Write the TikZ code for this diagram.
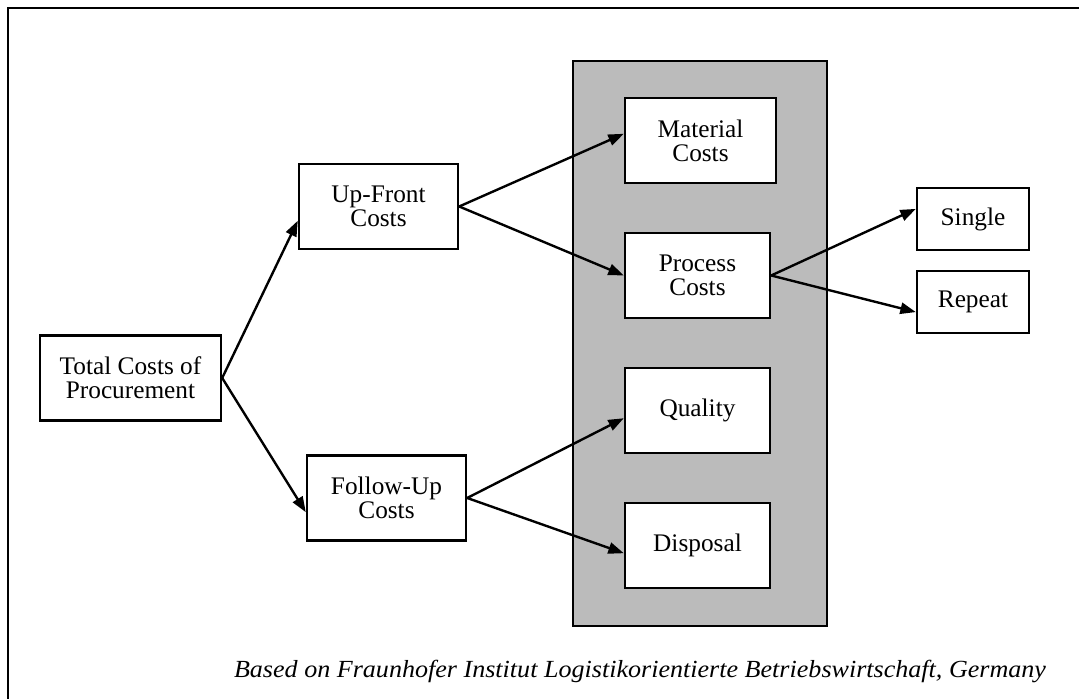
\documentclass[tikz,border=0pt]{standalone}
\usepackage{fontspec}
\setmainfont{Liberation Serif}
\newfontfamily\sourcefont[FakeStretch=1.06]{Liberation Serif}
\usetikzlibrary{arrows.meta}

\definecolor{panelgray}{RGB}{187,187,187}

\tikzset{
  costbox/.style={draw, line width=1.7pt, fill=white, align=center,
    minimum height=2.125cm, inner sep=2pt,
    font=\fontsize{18}{17}\selectfont},
  arr/.style={line width=1.7pt, -{Triangle[length=11pt,width=8pt]}},
}

\begin{document}
\begin{tikzpicture}
\useasboundingbox (0,0) rectangle (26.975,17.475);
% frame and grey panel
\draw[line width=1.7pt] (0.2,0) -- (0.2,17.275) -- (27.2,17.275);
\draw[line width=1.4pt, fill=panelgray] (14.325,1.825) rectangle (20.675,15.95);

\node[costbox, minimum width=4.525cm] (total) at (3.2625,8.025) {Total Costs of\\Procurement};
\node[costbox, minimum width=3.975cm] (upfront) at (9.4625,12.3125) {Up-Front\\Costs};
\node[costbox, minimum width=3.975cm] (followup) at (9.6625,5.025) {Follow-Up\\Costs};
\node[costbox, minimum width=3.775cm] (material) at (17.5125,13.9625) {Material\\Costs};
\node[costbox, minimum width=3.625cm] (process) at (17.4375,10.5875) {Process\\Costs};
\node[costbox, minimum width=3.625cm] (quality) at (17.4375,7.2125) {Quality};
\node[costbox, minimum width=3.625cm] (disposal) at (17.4375,3.8375) {Disposal};
\node[costbox, minimum width=2.8cm, minimum height=1.55cm] (single) at (24.325,12.0) {Single};
\node[costbox, minimum width=2.8cm, minimum height=1.55cm] (repeat) at (24.325,9.925) {Repeat};

\draw[arr] (total.east) -- (upfront.190);
\draw[arr] (total.east) -- (followup.190);
\draw[arr] (upfront.east) -- (material.175);
\draw[arr] (upfront.east) -- (process.west);
\draw[arr] (process.east) -- (single.170);
\draw[arr] (process.east) -- (repeat.190);
\draw[arr] (followup.east) -- (quality.186);
\draw[arr] (followup.east) -- (disposal.186);

\node[anchor=base, font=\fontsize{17.5}{20}\sourcefont\itshape] (source) at (16.0,0.525)
  {Based on Fraunhofer Institut Logistikorientierte Betriebswirtschaft, Germany};
\end{tikzpicture}
\end{document}
